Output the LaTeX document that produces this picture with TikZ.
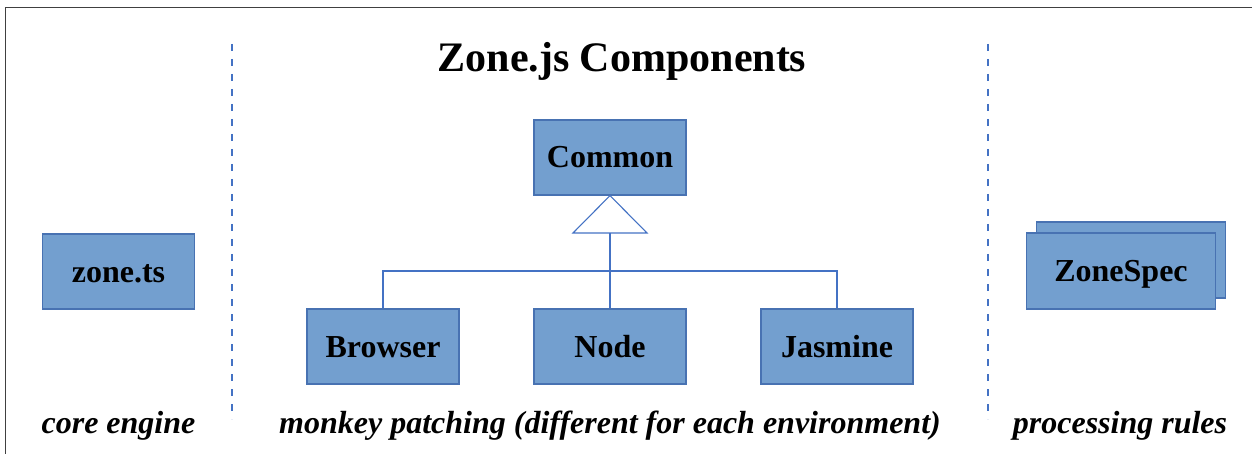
\documentclass[tikz,border=0pt]{standalone}
\usepackage{fontspec}
\setmainfont{Liberation Serif}
\definecolor{boxfill}{RGB}{115,159,207}
\definecolor{boxline}{RGB}{72,114,178}
\definecolor{conn}{RGB}{68,114,196}
\definecolor{frame}{RGB}{64,64,64}
\begin{document}
\begin{tikzpicture}[x=1pt,y=-1pt,
  comp/.style={draw=boxline,fill=boxfill,line width=1.2pt,minimum width=152pt,minimum height=75pt,
    inner sep=0pt,font=\fontsize{32}{36}\selectfont\bfseries,text height=21pt,text depth=0pt},
  caption/.style={anchor=base,font=\fontsize{32}{36}\selectfont\bfseries\itshape,inner sep=0pt},
  sep/.style={draw=conn,line width=1.1pt,dash pattern=on 7pt off 8pt},
  link/.style={draw=conn,line width=1.1pt}]
\useasboundingbox (0,0) rectangle (1252,454);
\clip (0,0) rectangle (1252,454);
\draw[frame,line width=1.6pt] (5.5,7.5) rectangle (1270,470);
\coordinate (s1top) at (232,44);
\coordinate (s1bot) at (232,419);
\coordinate (s2top) at (988,44);
\coordinate (s2bot) at (988,419);
\draw[sep] (s1top) -- (s1bot);
\draw[sep] (s2top) -- (s2bot);
\node[anchor=base,inner sep=0pt,font=\fontsize{42}{48}\selectfont\bfseries] (title) at (622,72) {Zone.js Components};
\node[comp] (common) at (610,157.5) {Common};
\node[comp] (browser) at (383,346.5) {Browser};
\node[comp] (node) at (610,346.5) {Node};
\node[comp] (jasmine) at (837,346.5) {Jasmine};
\node[comp] (zonets) at (118.5,271.5) {zone.ts};
\node[comp,minimum width=189pt,minimum height=76pt] (specback) at (1131,260) {};
\node[comp,minimum width=189pt,minimum height=76pt] (zonespec) at (1121,271) {ZoneSpec};
\coordinate (tribase) at (610,233);
\coordinate (hub) at (610,271);
\draw[link,fill=white,line join=miter] (common.south) -- (573,233) -- (647,233) -- cycle;
\draw[link] (node.north) -- (tribase);
\draw[link] (browser.north) |- (hub) -| (jasmine.north);
\node[caption] (c1) at (118.5,433) {core engine};
\node[caption] (c2) at (610,433) {monkey patching (different for each environment)};
\node[caption] (c3) at (1120,433) {processing rules};
\end{tikzpicture}
\end{document}
